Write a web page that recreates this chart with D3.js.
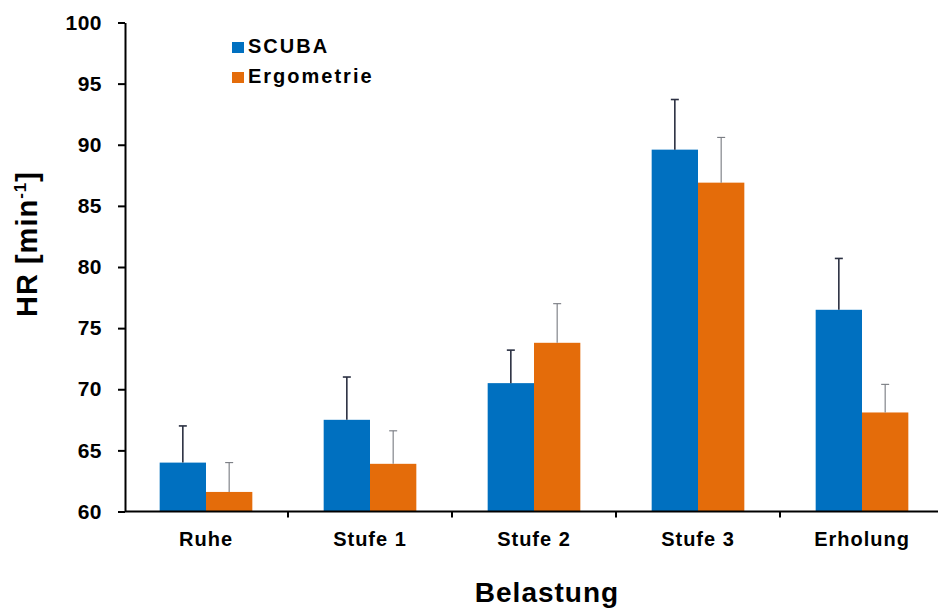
<!DOCTYPE html>
<html>
<head>
<meta charset="utf-8">
<script src="https://cdn.jsdelivr.net/npm/d3@7"></script>
<style>
  body { margin: 0; background: #fff; }
  svg text { font-family: "Liberation Sans", Arial, sans-serif; font-weight: bold; fill: #000; }
</style>
</head>
<body>
<svg id="chart" width="938" height="612"></svg>
<script>
// data
const categories = ['Ruhe', 'Stufe 1', 'Stufe 2', 'Stufe 3', 'Erholung'];
const seriesNames = ['SCUBA', 'Ergometrie'];
const scubaValues = [64.0, 67.5, 70.5, 89.6, 76.5];
const scubaErrors = [3.0, 3.5, 2.7, 4.1, 4.2];
const ergoValues = [61.6, 63.9, 73.8, 86.9, 68.1];
const ergoErrors = [2.4, 2.7, 3.2, 3.7, 2.3];
const yTicks = [60, 65, 70, 75, 80, 85, 90, 95, 100];

const colors = { SCUBA: '#0070c0', Ergometrie: '#e46c0a' };
const errColors = { SCUBA: '#2b3042', Ergometrie: '#777a80' };
const errWidths = { SCUBA: 1.6, Ergometrie: 1.1 };

const svg = d3.select('#chart');
const axisLeftX = 125, plotTop = 22.5, plotBottom = 511.5;

const y = d3.scaleLinear().domain([60, 100]).range([plotBottom, plotTop]);

const p = 0.435;
const x = d3.scaleBand().domain(categories).range([124, 944])
  .paddingInner(p).paddingOuter(p / 2);
const xs = d3.scaleBand().domain(seriesNames).range([0, x.bandwidth()]);

const rows = categories.map((c, i) => ({
  cat: c,
  vals: [
    { s: 'SCUBA', v: scubaValues[i], e: scubaErrors[i] },
    { s: 'Ergometrie', v: ergoValues[i], e: ergoErrors[i] }
  ]
}));

// bars
const groups = svg.append('g').selectAll('g').data(rows).enter().append('g')
  .attr('transform', d => `translate(${x(d.cat)},0)`);

groups.selectAll('rect').data(d => d.vals).enter().append('rect')
  .attr('x', d => xs(d.s))
  .attr('y', d => y(d.v))
  .attr('width', xs.bandwidth())
  .attr('height', d => y(60) - y(d.v))
  .attr('fill', d => colors[d.s]);

// error bars (upper only)
const err = groups.selectAll('g.err').data(d => d.vals).enter().append('g')
  .attr('class', 'err')
  .attr('stroke', d => errColors[d.s])
  .attr('stroke-width', d => errWidths[d.s]);
err.append('line')
  .attr('x1', d => xs(d.s) + xs.bandwidth() / 2).attr('x2', d => xs(d.s) + xs.bandwidth() / 2)
  .attr('y1', d => y(d.v)).attr('y2', d => y(d.v + d.e));
err.append('line')
  .attr('x1', d => xs(d.s) + xs.bandwidth() / 2 - 4).attr('x2', d => xs(d.s) + xs.bandwidth() / 2 + 4)
  .attr('y1', d => y(d.v + d.e)).attr('y2', d => y(d.v + d.e));

// y axis
const yAxis = svg.append('g').attr('transform', `translate(${axisLeftX},0)`)
  .call(d3.axisLeft(y).tickValues(yTicks).tickSize(7).tickPadding(16).tickSizeOuter(0));
yAxis.select('.domain').attr('stroke', '#000').attr('stroke-width', 2);
yAxis.selectAll('.tick line').attr('stroke', '#000').attr('stroke-width', 2);
yAxis.selectAll('text').attr('font-size', 21).attr('font-family', null).attr('letter-spacing', 0.5);

// x axis
const xAxis = svg.append('g').attr('transform', `translate(0,${plotBottom})`)
  .call(d3.axisBottom(x).tickSize(0).tickPadding(20));
xAxis.select('.domain').attr('d', `M${axisLeftX},0H938`).attr('stroke', '#000').attr('stroke-width', 2);
xAxis.selectAll('text').attr('font-size', 20).attr('font-family', null).attr('letter-spacing', 1);

// boundary ticks between the groups
xAxis.selectAll('line.sep').data(categories.slice(0, -1)).enter().append('line')
  .attr('class', 'sep')
  .attr('x1', c => x(c) + x.bandwidth() / 2 + x.step() / 2)
  .attr('x2', c => x(c) + x.bandwidth() / 2 + x.step() / 2)
  .attr('y1', 0).attr('y2', 6)
  .attr('stroke', '#000').attr('stroke-width', 2);

// axis titles
svg.append('text')
  .attr('x', 547).attr('y', 601.5)
  .attr('text-anchor', 'middle')
  .attr('font-size', 28).attr('letter-spacing', 1)
  .text('Belastung');

const yTitle = svg.append('text')
  .attr('transform', 'translate(37,244) rotate(-90)')
  .attr('text-anchor', 'middle')
  .attr('font-size', 29).attr('letter-spacing', 1);
yTitle.append('tspan').text('HR [min');
yTitle.append('tspan').attr('font-size', 17).attr('dy', -11).text('-1');
yTitle.append('tspan').attr('dy', 11).text(']');

// legend
const legend = svg.append('g').selectAll('g').data(seriesNames).enter().append('g')
  .attr('transform', (d, i) => `translate(232,${42 + i * 30})`);
legend.append('rect').attr('width', 12).attr('height', 11).attr('fill', d => colors[d]);
legend.append('text').attr('x', 16).attr('y', 11)
  .attr('font-size', 20).attr('letter-spacing', 2)
  .text(d => d);
</script>
</body>
</html>
